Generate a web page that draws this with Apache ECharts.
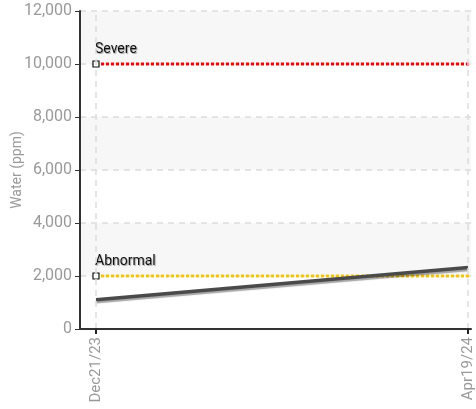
<!DOCTYPE html>
<html><head><meta charset="utf-8">
<script src="https://cdn.jsdelivr.net/npm/echarts@6/dist/echarts.min.js"></script>
<style>html,body{margin:0;padding:0;background:#fff}#c{width:476px;height:409px}</style>
</head><body><div id="c"></div>
<script>
const dates = ['Dec21/23', 'Apr19/24'];
const water = [1100, 2320];
const severeLevel = 10000;
const abnormalLevel = 2000;

const FONT = "'Roboto', sans-serif";
const idx = dates.map((d, i) => i);
const lastIdx = idx[idx.length - 1];
const xMin = -0.043, xMax = lastIdx + 0.008;
const yMin = 0, yMax = 12000, yStep = 2000;

function threshold(name, level, color) {
  return {
    type: 'line', name: name,
    data: [
      { value: [0, level], symbol: 'rect' },
      { value: [xMax, level], symbol: 'none' }
    ],
    lineStyle: { color: color, width: 3, type: [3, 2] },
    symbolSize: 6,
    showSymbol: true,
    itemStyle: { color: '#fff', borderColor: '#111', borderWidth: 1.2 },
    label: {
      show: true, position: 'top', align: 'left', offset: [-1, 1],
      formatter: p => p.dataIndex === 0 ? name : '',
      color: '#111', fontSize: 14, fontFamily: FONT,
      textShadowColor: 'rgba(0,0,0,0.35)', textShadowBlur: 1, textShadowOffsetX: 1, textShadowOffsetY: 1
    },
    z: 3, silent: true, animation: false
  };
}

const chart = echarts.init(document.getElementById('c'));
chart.setOption({
  animation: false,
  grid: { left: 80, right: 5, top: 11, bottom: 80, outerBoundsMode: 'none' },
  xAxis: {
    type: 'value', min: xMin, max: xMax, z: 5,
    axisLine: { show: true, onZero: false, lineStyle: { color: '#333', width: 2 } },
    axisTick: { show: true, customValues: idx, length: 5, inside: false, lineStyle: { color: '#222', width: 2 } },
    axisLabel: {
      customValues: idx, rotate: 90, margin: 8,
      formatter: v => dates[Math.round(v)], color: '#999', fontSize: 15, fontFamily: FONT
    },
    splitLine: { show: false }
  },
  yAxis: [
    {
      type: 'value', min: yMin, max: yMax, interval: yStep, z: 5,
      axisLine: { show: true, onZero: false, lineStyle: { color: '#333', width: 2 } },
      axisTick: { show: true, length: 5 },
      axisLabel: { color: '#999', fontSize: 16, fontFamily: FONT, margin: 8 },
      splitLine: { show: false },
      splitArea: { show: false }
    },
    {
      type: 'value', min: yMin, max: yMax, interval: yStep, z: 0, position: 'left',
      name: 'Water (ppm)', nameLocation: 'middle', nameGap: 56, nameRotate: 90,
      nameTextStyle: { color: '#999', fontSize: 14, fontFamily: FONT },
      axisLine: { show: false, onZero: false },
      axisTick: { show: false },
      axisLabel: { show: false },
      splitLine: { show: true, lineStyle: { color: '#ddd', type: [6, 5], width: 1.5 } },
      splitArea: { show: true, areaStyle: { color: ['#ffffff', '#f7f7f7'] } }
    }
  ],
  series: [
    {
      type: 'line', name: 'grid',
      data: [],
      markLine: {
        silent: true, symbol: 'none', label: { show: false },
        lineStyle: { color: '#ddd', type: [6, 5], width: 1.5 },
        data: idx.map(i => ({ xAxis: i }))
      }
    },
    {
      type: 'line', name: 'axisEdge', clip: false, silent: true, symbol: 'none', z: 6,
      data: [[xMin, yMin], [xMin, yMax]],
      lineStyle: { color: '#333', width: 2 }
    },
    threshold('Severe', severeLevel, '#ff0000'),
    threshold('Abnormal', abnormalLevel, '#f7c600'),
    {
      type: 'line', name: 'Water',
      data: idx.map(i => [i, water[i]]),
      symbol: 'none',
      lineStyle: { color: '#4a4a4a', width: 3.5, shadowColor: 'rgba(0,0,0,0.35)', shadowBlur: 1, shadowOffsetY: 2 },
      z: 4
    }
  ]
});
</script></body></html>
